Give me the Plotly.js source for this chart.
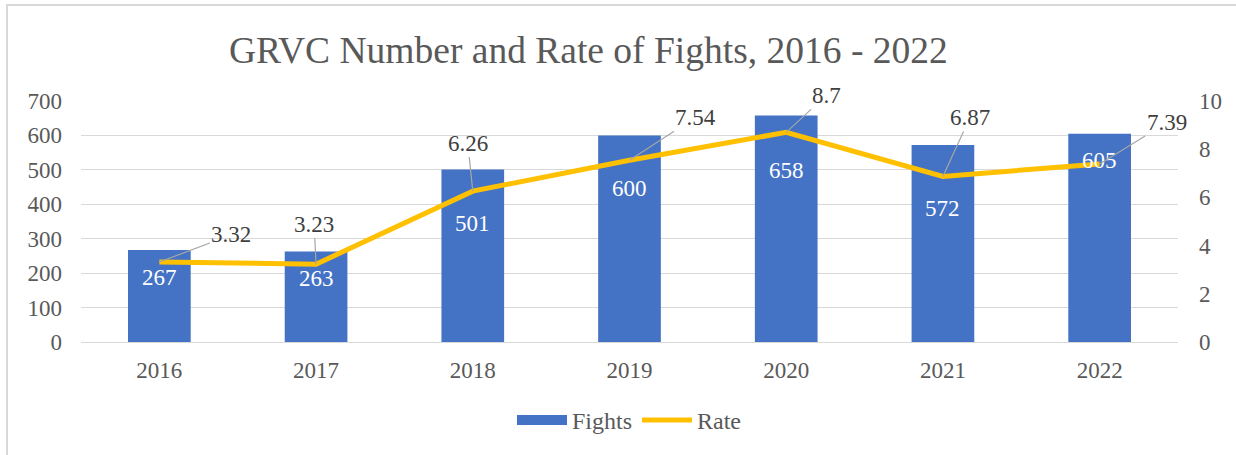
<!DOCTYPE html>
<html>
<head>
<meta charset="utf-8">
<script src="https://cdn.plot.ly/plotly-3.0.1.min.js"></script>
<style>
html,body{margin:0;padding:0;background:#fff;}
#frame{position:absolute;left:6px;top:4px;width:1230px;height:451px;border-left:2px solid #d9d9d9;border-top:2px solid #d9d9d9;box-sizing:border-box;}
#chart{position:absolute;left:0;top:0;width:1236px;height:455px;}
</style>
</head>
<body>
<div id="frame"></div>
<div id="chart"></div>
<script>
// Data
const years = ['2016','2017','2018','2019','2020','2021','2022'];
const fights = [267, 263, 501, 600, 658, 572, 605];
const rate = [3.32, 3.23, 6.26, 7.54, 8.7, 6.87, 7.39];

// Label placement (pixels), separate from the data
const barLabelDrop = [27, 27, 54, 53, 55, 63, 27];
const rateLabelAx = [72, -2, -5, 66, 40, 27, 67];
const rateLabelAy = [-27, -40, -48, -43, -37, -59, -41];

const FONT = "'Liberation Serif', 'Times New Roman', serif";
const GREY = '#595959';
const BLUE = '#4472C4';
const GOLD = '#FFC000';

const traces = [
  {
    type: 'bar', name: 'Fights', x: years, y: fights,
    marker: {color: BLUE}, yaxis: 'y', showlegend: false
  },
  {
    type: 'scatter', mode: 'lines', name: 'Rate', x: years, y: rate,
    line: {color: GOLD, width: 5}, yaxis: 'y2', showlegend: false
  },
  // legend-only entries (no marks drawn)
  {
    type: 'scatter', mode: 'lines', name: 'Fights', x: [null], y: [null],
    line: {color: BLUE, width: 12}, yaxis: 'y', legendrank: 1
  },
  {
    type: 'scatter', mode: 'lines', name: 'Rate', x: [null], y: [null],
    line: {color: GOLD, width: 5}, yaxis: 'y2', legendrank: 2
  }
];

const annotations = [];
years.forEach((yr, i) => {
  annotations.push({
    x: i, y: fights[i], xref: 'x', yref: 'y',
    text: String(fights[i]), showarrow: false,
    yanchor: 'middle', yshift: -barLabelDrop[i],
    font: {family: FONT, size: 23, color: '#ffffff'}
  });
  annotations.push({
    x: i, y: rate[i], xref: 'x', yref: 'y2',
    text: String(rate[i]), showarrow: true, arrowhead: 0,
    arrowwidth: 1.2, arrowcolor: '#a6a6a6', standoff: 0,
    ax: rateLabelAx[i], ay: rateLabelAy[i],
    font: {family: FONT, size: 23, color: '#404040'}
  });
});

const layout = {
  width: 1236, height: 455,
  margin: {l: 81, r: 58, t: 101, b: 113},
  paper_bgcolor: 'rgba(0,0,0,0)', plot_bgcolor: 'rgba(0,0,0,0)',
  font: {family: FONT, size: 23, color: GREY},
  title: {
    text: 'GRVC Number and Rate of Fights, 2016 - 2022',
    font: {family: FONT, size: 37.5, color: GREY},
    xref: 'container', x: 0.476, xanchor: 'center',
    yref: 'container', y: 1 - 50/455, yanchor: 'middle'
  },
  bargap: 0.6,
  showlegend: true,
  legend: {
    orientation: 'h', x: 0.5, xanchor: 'center', y: -0.325, yanchor: 'middle',
    font: {family: FONT, size: 24, color: GREY}, itemwidth: 50
  },
  xaxis: {
    type: 'category', range: [-0.5, years.length - 0.5], autorange: false,
    showgrid: false, zeroline: false, showline: false,
    ticks: '', ticklabelstandoff: 12,
    tickfont: {family: FONT, size: 23, color: GREY}
  },
  yaxis: {
    range: [0, 700], dtick: 100, showgrid: true, gridcolor: '#d9d9d9', gridwidth: 1,
    zeroline: true, zerolinecolor: '#d9d9d9', zerolinewidth: 1,
    showline: false, ticks: '', ticklabelstandoff: 18,
    tickfont: {family: FONT, size: 23, color: GREY}
  },
  yaxis2: {
    range: [0, 10], dtick: 2, overlaying: 'y', side: 'right',
    showgrid: false, zeroline: false, showline: false, ticks: '',
    ticklabelstandoff: 20,
    tickfont: {family: FONT, size: 23, color: GREY}
  },
  annotations: annotations
};

Plotly.newPlot('chart', traces, layout, {displayModeBar: false, staticPlot: true});
</script>
</body>
</html>
